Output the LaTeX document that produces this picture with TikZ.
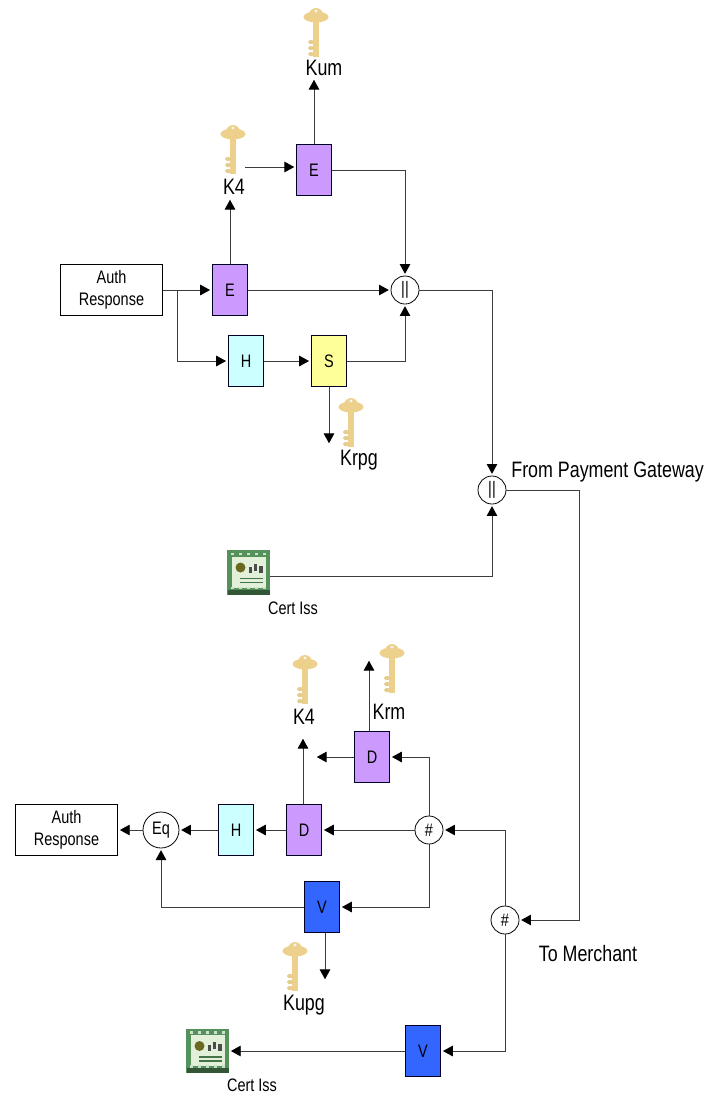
\documentclass[tikz,border=0pt]{standalone}
\usepackage{fontspec}
\setmainfont[FakeStretch=0.8]{Liberation Sans}
\usetikzlibrary{positioning,calc,arrows.meta}
\definecolor{BlockPurple}{RGB}{204,153,255}
\definecolor{BlockCyan}{RGB}{204,255,255}
\definecolor{BlockYellow}{RGB}{255,255,153}
\definecolor{BlockBlue}{RGB}{51,102,255}
\definecolor{KeyGold}{RGB}{236,208,140}
\definecolor{KeyShade}{RGB}{200,190,160}
\definecolor{CertGreen}{RGB}{85,145,90}
\definecolor{CertPale}{RGB}{226,240,218}
\definecolor{WireGray}{RGB}{60,60,60}

\begin{document}
\begin{tikzpicture}[x=0.02cm,y=-0.02cm]
	\tikzset{
		b/.style={rectangle, draw=black!85!blue, line width=0.5pt, minimum width=0.71cm, minimum height=1.03cm, inner sep=0pt, font=\fontsize{10.3}{12}\selectfont},
		t/.style={rectangle, draw=black, line width=0.45pt, fill=white, minimum width=2.05cm, minimum height=1.03cm, inner sep=0pt, align=center, font=\fontsize{10.3}{12.5}\selectfont},
		c/.style={circle, draw=black, line width=0.45pt, fill=white, minimum size=0.56cm, inner sep=0pt, font=\fontsize{10.3}{12}\selectfont},
		l/.style={inner sep=0pt, font=\fontsize{12.7}{14}\selectfont},
		s/.style={inner sep=0pt, font=\fontsize{10.3}{12}\selectfont},
		cert/.style={rectangle, fill=CertGreen, minimum width=0.85cm, minimum height=0.89cm, inner sep=0pt},
		a/.style={draw=WireGray, line width=0.5pt, shorten >=1pt, -{Triangle[length=5.6pt,width=6pt,color=black]}},
		w/.style={draw=WireGray, line width=0.5pt},
		keyicon/.pic={
			\fill[KeyGold] (0,0) ellipse [x radius=12.5, y radius=5.5];
			\fill[KeyGold] (0,-2) ellipse [x radius=7, y radius=7];
			\fill[white!85!KeyShade] (0,-6) circle [radius=1.6];
			\fill[KeyGold] (-3,2) rectangle (3,40);
			\foreach \ty in {25,31,37}
				\fill[KeyGold!80!KeyShade, rounded corners=1pt] (-8,\ty-2) rectangle (-2,\ty+2);
		},
		certicon/.pic={
			\fill[CertPale] (-17,-16) rectangle (17,15);
			\fill[CertGreen!60!black] (-21,17) rectangle (21,22);
			\foreach \dx in {-16,-8,0,8,16} {
				\fill[white!70!CertGreen] (\dx-1.5,-20) rectangle (\dx+1.5,-17.5);
				\fill[white!70!CertGreen] (\dx-1.5,14) rectangle (\dx+1.5,16.5);
			}
			\fill[olive!70!black] (-8,-5) circle [radius=5];
			\fill[black!70] (0,-6) rectangle (3,0);
			\fill[black!70] (5,-9) rectangle (8,-2);
			\fill[black!70] (10,-7) rectangle (14,0);
			\fill[CertGreen!80!black] (-9,5) rectangle (14,6.5);
			\fill[CertGreen!80!black] (-9,9) rectangle (14,10.5);
		}
	}
	\useasboundingbox (0,0) rectangle (721,1100);

	% keys
	\pic at (316,17) {keyicon};
	\pic at (233,134) {keyicon};
	\pic at (351,407) {keyicon};
	\pic at (305,664) {keyicon};
	\pic at (392,653) {keyicon};
	\pic at (295,951) {keyicon};

	% sender side
	\node[t] (auth1) at (111.5,290) {Auth\\Response};
	\node[b, fill=BlockPurple] (e1) at (230,290) {E};
	\node[b, fill=BlockPurple] (e2) at (314,170) {E};
	\node[b, fill=BlockCyan] (h1) at (246,361) {H};
	\node[b, fill=BlockYellow] (s1) at (329,361) {S};
	\node[c] (con1) at (405,290) {||};
	\node[c] (con2) at (492,490) {||};
	\node[l] (kum) at (324,68) {Kum};
	\node[l] (k4a) at (234,187) {K4};
	\node[l] (krpg) at (359,460) {Krpg};
	\node[cert] (cert1) at (248.5,572.5) {};
	\pic at (248.5,572.5) {certicon};
	\node[s] (iss1) at (293,608) {Cert Iss};
	\node[l, anchor=west] (from) at (511,472) {From Payment Gateway};

	% receiver side
	\node[t] (auth2) at (66.5,830) {Auth\\Response};
	\node[c, minimum size=0.72cm] (eq) at (161,830) {Eq};
	\node[b, fill=BlockCyan] (h2) at (236,830) {H};
	\node[b, fill=BlockPurple] (d2) at (304,830) {D};
	\node[b, fill=BlockPurple] (d1) at (372,757) {D};
	\node[c] (hash1) at (429,830) {\#};
	\node[c] (hash2) at (505,920) {\#};
	\node[b, fill=BlockBlue] (v1) at (322,907) {V};
	\node[b, fill=BlockBlue] (v2) at (423,1051) {V};
	\node[l] (k4b) at (304,717) {K4};
	\node[l] (krm) at (389,712) {Krm};
	\node[l] (kupg) at (304,1005) {Kupg};
	\node[cert] (cert2) at (207.5,1051) {};
	\pic at (207.5,1051) {certicon};
	\node[s] (iss2) at (252,1085) {Cert Iss};
	\node[l] (tomer) at (588,954) {To Merchant};

	\coordinate (split) at (177,290);
	\coordinate (k4out) at (245,167);
	\coordinate (e2in) at (296,167);
	\coordinate (kumend) at (314,78);
	\coordinate (k4aend) at (230,198);
	\coordinate (krpgend) at (329,445);
	\coordinate (krmend) at (369,659);
	\coordinate (d1top) at (369,731);
	\coordinate (d1end) at (315,757);
	\coordinate (k4end) at (303,737);
	\coordinate (d2top) at (303,804);
	\coordinate (v1low) at (325,933);
	\coordinate (kupgend) at (325,981);
	\coordinate (corner) at (579,490);
	\coordinate (certout) at (270,576);

	\draw[a] (auth1.east) -- (e1.west);
	\draw[a] (split) |- (h1.west);
	\draw[a] (e1.north) -- (k4aend);
	\draw[a] (k4out) -- (e2in);
	\draw[a] (e2.north) -- (kumend);
	\draw[a] (e2.east) -| (con1.north);
	\draw[a] (e1.east) -- (con1.west);
	\draw[a] (h1.east) -- (s1.west);
	\draw[a] (s1.east) -| (con1.south);
	\draw[a] (s1.south) -- (krpgend);
	\draw[a] (con1.east) -| (con2.north);
	\draw[a] (certout) -| (con2.south);
	\draw[w] (con2.east) -- (corner);
	\draw[a] (corner) |- (hash2.east);

	\draw[a] (hash2.north) |- (hash1.east);
	\draw[a] (hash2.south) |- (v2.east);
	\draw[a] (v2.west) -- (cert2.east);
	\draw[a] (hash1.north) |- (d1.east);
	\draw[a] (d1.west) -- (d1end);
	\draw[a] (d1top) -- (krmend);
	\draw[a] (hash1.west) -- (d2.east);
	\draw[a] (d2.west) -- (h2.east);
	\draw[a] (h2.west) -- (eq.east);
	\draw[a] (eq.west) -- (auth2.east);
	\draw[a] (d2top) -- (k4end);
	\draw[a] (hash1.south) |- (v1.east);
	\draw[a] (v1.west) -| (eq.south);
	\draw[a] (v1low) -- (kupgend);
\end{tikzpicture}
\end{document}
